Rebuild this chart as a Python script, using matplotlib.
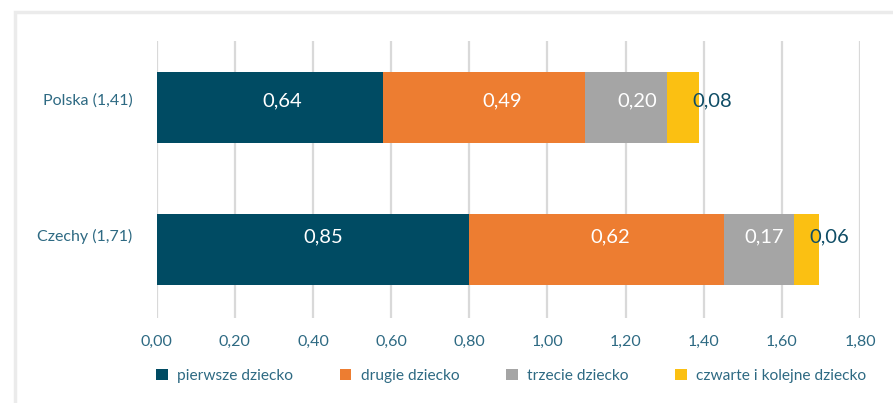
import matplotlib
matplotlib.use("Agg")
import matplotlib.pyplot as plt
from matplotlib.patches import Rectangle
import numpy as np

plt.rcParams["font.family"] = ["Lato", "DejaVu Sans"]

COUNTRIES = ["Polska (1,41)", "Czechy (1,71)"]
SERIES = ["pierwsze dziecko", "drugie dziecko", "trzecie dziecko", "czwarte i kolejne dziecko"]
COLORS = ["#004B63", "#ED7D31", "#A5A5A5", "#FBC012"]

# bar lengths as drawn in the source chart
BAR_POLSKA = [0.578, 0.519, 0.210, 0.081]
BAR_CZECHY = [0.798, 0.655, 0.179, 0.064]
# values printed on the bars
LABEL_POLSKA = [0.64, 0.49, 0.20, 0.08]
LABEL_CZECHY = [0.85, 0.62, 0.17, 0.06]

TICKS = [0.0, 0.2, 0.4, 0.6, 0.8, 1.0, 1.2, 1.4, 1.6, 1.8]
TEXT_COLOR = "#2E6A83"
DPI = 100
# the source places the text of each row a bit above the bar centre (pixels)
ROW_TEXT_LIFT = [7, 13]

bars = np.array([BAR_POLSKA, BAR_CZECHY])
labels = np.array([LABEL_POLSKA, LABEL_CZECHY])

fig = plt.figure(figsize=(8.93, 4.03), dpi=DPI)
fig.patches.append(Rectangle((14.5 / 893, -0.1), 1.2, 1.1 - 12.5 / 403, transform=fig.transFigure,
                             fill=False, edgecolor="#EBEBEB", linewidth=2.5))
ax = fig.add_axes([0.1755, 0.2109, 0.7876, 0.6874])

y = np.arange(len(COUNTRIES))
left = np.zeros(len(COUNTRIES))
for i, name in enumerate(SERIES):
    ax.barh(y, bars[:, i], left=left, height=0.5, color=COLORS[i], label=name, zorder=2)
    left += bars[:, i]

# value labels positioned on the printed values
cum = np.zeros(len(COUNTRIES))
for i in range(len(SERIES)):
    for j in range(len(COUNTRIES)):
        v = labels[j, i]
        xc = cum[j] + v / 2
        txt = f"{v:.2f}".replace(".", ",")
        lift = ROW_TEXT_LIFT[j] * 72 / DPI
        if i == 3:
            ax.annotate(txt, (xc, y[j]), xytext=(0, lift), textcoords="offset points",
                        ha="left", va="center", fontsize=14.5, color="#0F4D66", zorder=3)
        else:
            ax.annotate(txt, (xc, y[j]), xytext=(0, lift), textcoords="offset points",
                        ha="center", va="center", fontsize=14.5, color="white", zorder=3)
    cum += labels[:, i]

# category labels, drawn as text so they can sit above the bar centre
ax.set_yticks(y)
ax.set_yticklabels([])
for j, name in enumerate(COUNTRIES):
    ax.annotate(name, (0, y[j]), xytext=(-17.5, ROW_TEXT_LIFT[j] * 72 / DPI), textcoords="offset points",
                ha="right", va="center", fontsize=11.5, color=TEXT_COLOR, annotation_clip=False)

ax.set_xlim(0, 1.8)
ax.set_ylim(1.482, -0.468)
ax.set_xticks(TICKS)
ax.set_xticklabels([f"{t:.2f}".replace(".", ",") for t in TICKS], fontsize=11.5, color=TEXT_COLOR)
ax.tick_params(length=0, axis="x", pad=12)
ax.tick_params(length=0, axis="y")
ax.grid(axis="x", color="#D9D9D9", linewidth=1.6, zorder=0)
ax.set_axisbelow(True)
for s in ax.spines.values():
    s.set_visible(False)

fig.legend(loc="center left", bbox_to_anchor=(156 / 893, 0.067), ncol=4, frameon=False,
           fontsize=11.2, labelcolor=TEXT_COLOR, handlelength=0.75, handleheight=0.75,
           handletextpad=0.6, columnspacing=3.0, borderpad=0, borderaxespad=0)

fig.savefig("out.png", dpi=DPI)
